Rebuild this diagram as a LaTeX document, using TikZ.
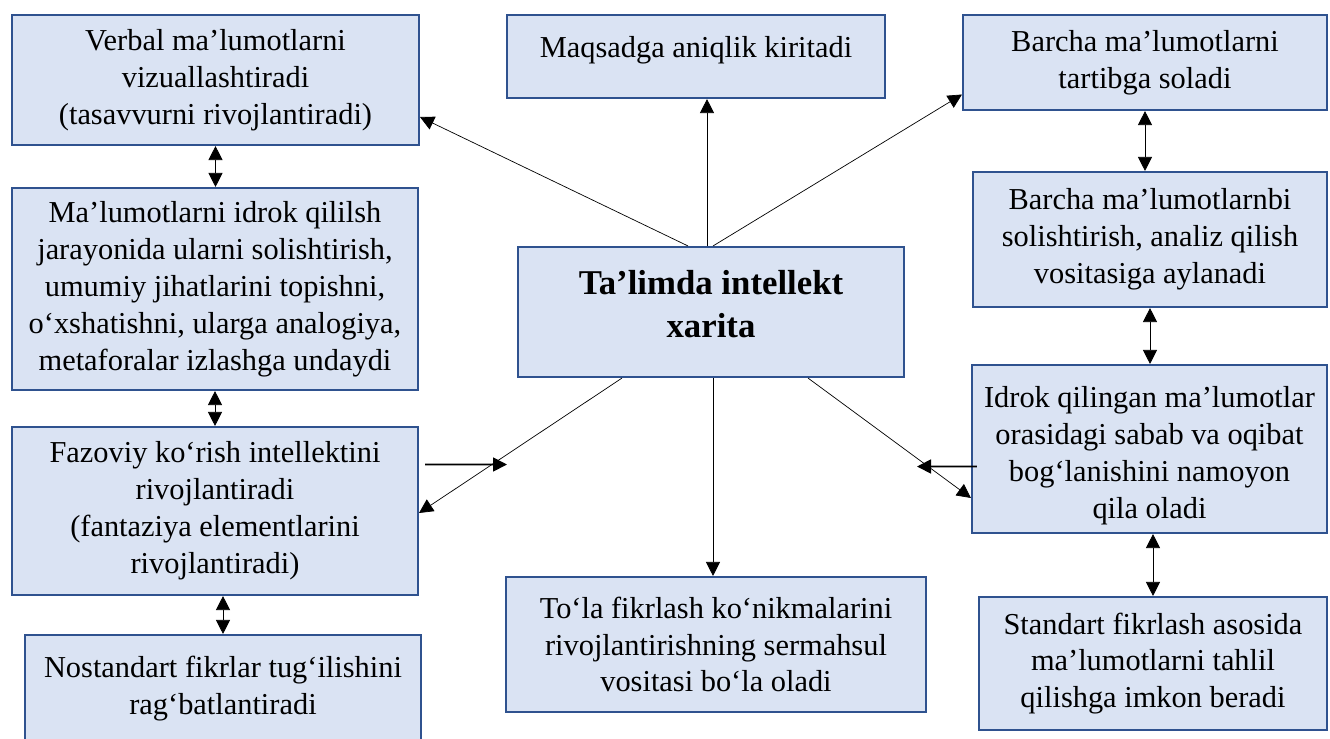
\documentclass[tikz,border=0pt]{standalone}
\usepackage{fontspec}
\setmainfont{Liberation Serif}
\usepackage{tikz}
\usetikzlibrary{arrows.meta}
\definecolor{boxfill}{HTML}{DAE3F3}
\definecolor{boxline}{HTML}{2F528F}
\tikzset{->, >={Triangle[length=0.28cm, width=0.28cm]}, line width=0.8pt}

\begin{document}
\begin{tikzpicture}[x=0.02cm, y=-0.02cm, block_side/.style={rectangle, draw=boxline, fill=boxfill, line width=1.2pt, align=center, inner sep=2pt, font=\fontsize{17.3}{21}\selectfont}, block_center/.style={block_side, font=\fontsize{19.8}{24}\selectfont\bfseries}]
    \useasboundingbox (0,0) rectangle (1330,738);

    \node[block_side, minimum width=8.14cm, minimum height=2.6cm] (verbal) at (215.5,80) {Verbal ma’lumotlarni\\vizuallashtiradi\\(tasavvurni rivojlantiradi)};
    \node[block_side, text depth=0.4cm, minimum width=7.56cm, minimum height=1.66cm] (goal) at (696,56.5) {Maqsadga aniqlik kiritadi};
    \node[block_side, minimum width=7.28cm, minimum height=1.9cm] (order) at (1145,62.5) {Barcha ma’lumotlarni\\tartibga soladi};
    \node[block_side, minimum width=8.12cm, minimum height=4.04cm] (perceive) at (215,289) {Ma’lumotlarni idrok qililsh\\jarayonida ularni solishtirish,\\umumiy jihatlarini topishni,\\o‘xshatishni, ularga analogiya,\\metaforalar izlashga undaydi};
    \node[block_center, text depth=0.32cm, minimum width=7.72cm, minimum height=2.6cm] (main) at (711,312) {Ta’limda intellekt\\xarita};
    \node[block_side, minimum width=7.08cm, minimum height=2.7cm] (compare) at (1150,239.5) {Barcha ma’lumotlarnbi\\solishtirish, analiz qilish\\vositasiga aylanadi};
    \node[block_side, minimum width=8.12cm, minimum height=3.36cm] (spatial) at (215,511) {Fazoviy ko‘rish intellektini\\rivojlantiradi\\(fantaziya elementlarini\\rivojlantiradi)};
    \node[block_side, minimum width=7.1cm, minimum height=3.36cm] (cause) at (1149.5,449) {\rule{0pt}{19.5pt}Idrok qilingan ma’lumotlar\\orasidagi sabab va oqibat\\bog‘lanishini namoyon\\qila oladi};
    \node[block_side, minimum width=8.4cm, minimum height=2.7cm] (whole) at (716,644.5) {To‘la fikrlash ko‘nikmalarini\\rivojlantirishning sermahsul\\vositasi bo‘la oladi};
    \node[block_side, minimum width=7.92cm, minimum height=2.14cm] (nonstd) at (223,688.5) {Nostandart fikrlar tug‘ilishini\\rag‘batlantiradi};
    \node[block_side, minimum width=6.96cm, minimum height=2.66cm] (std) at (1153,663.5) {Standart fikrlash asosida\\ma’lumotlarni tahlil\\qilishga imkon beradi};

    \coordinate (left_tip) at (507,464.5);
    \coordinate (right_tip) at (917,466.5);

    \draw ([xshift=-0.46cm]main.north) -- ([yshift=-0.74cm]verbal.east);
    \draw ([xshift=-0.08cm]main.north) -- ([xshift=-0.08cm]main.north |- goal.south);
    \draw ([xshift=0.04cm]main.north) -- ([yshift=-0.64cm]order.west);
    \draw ([xshift=-1.78cm]main.south) -- ([yshift=-0.04cm]spatial.east);
    \draw ([xshift=0.04cm]main.south) -- ([xshift=0.04cm]main.south |- whole.north);
    \draw ([xshift=1.94cm]main.south) -- ([yshift=-0.98cm]cause.west);
    \draw[line width=1pt] ([xshift=0.12cm, yshift=0.93cm]spatial.east) -- (left_tip);
    \draw[line width=1pt] ([xshift=0.12cm, yshift=-0.35cm]cause.west) -- (right_tip);

    \draw[<->] (verbal.south) -- (verbal.south |- perceive.north);
    \draw[<->] (perceive.south) -- (perceive.south |- spatial.north);
    \draw[<->] (nonstd.north |- spatial.south) -- (nonstd.north);
    \draw[<->] (order.south) -- (order.south |- compare.north);
    \draw[<->] (compare.south) -- (compare.south |- cause.north);
    \draw[<->] (std.north |- cause.south) -- (std.north);
\end{tikzpicture}
\end{document}
